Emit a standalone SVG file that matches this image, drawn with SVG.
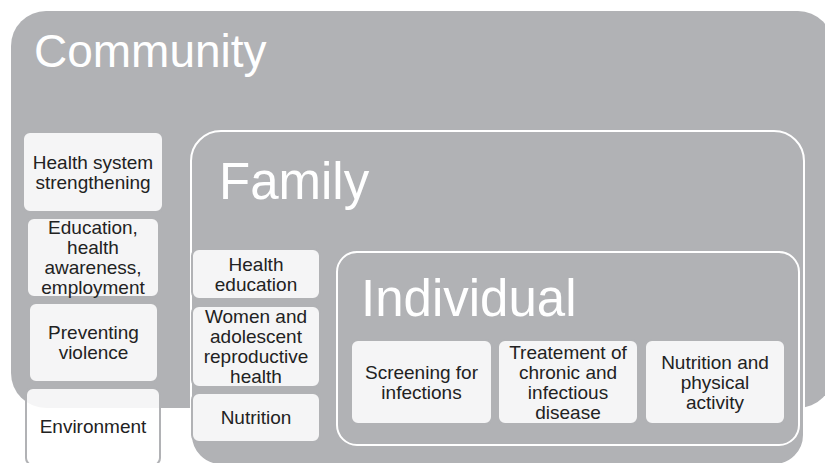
<svg xmlns="http://www.w3.org/2000/svg" width="825" height="463" viewBox="0 0 825 463">
  <style>
    .level { fill: #b1b2b5; }
    .outline { fill: #b1b2b5; stroke: #ffffff; stroke-width: 2; }
    .title { font-family: "Liberation Sans", Arial, sans-serif; fill: #ffffff; }
    .item { fill: #ffffff; fill-opacity: 0.87; stroke: #b1b2b5; stroke-width: 2; }
    .label { font-family: "Liberation Sans", Arial, sans-serif; font-size: 19px; fill: #222222; text-anchor: middle; }
  </style>
  <rect width="825" height="463" fill="#ffffff"/>

  <!-- Outer level -->
  <g id="community">
    <rect class="level" x="11" y="11" width="822" height="397" rx="35"/>
    <text class="title" x="34" y="67" font-size="46">Community</text>
  </g>

  <!-- Community items -->
  <g id="health-system">
    <rect class="item" x="23" y="132" width="140" height="80" rx="7"/>
    <text class="label"><tspan x="93" y="168.7">Health system</tspan><tspan x="93" y="188.7">strengthening</tspan></text>
  </g>
  <g id="education">
    <rect class="item" x="27" y="218" width="132" height="79" rx="7"/>
    <text class="label"><tspan x="93" y="234">Education,</tspan><tspan x="93" y="254">health</tspan><tspan x="93" y="274">awareness,</tspan><tspan x="93" y="294">employment</tspan></text>
  </g>
  <g id="violence">
    <rect class="item" x="29" y="303" width="129" height="79" rx="7"/>
    <text class="label"><tspan x="93.5" y="339">Preventing</tspan><tspan x="93.5" y="359">violence</tspan></text>
  </g>
  <g id="environment">
    <rect class="item" x="26" y="388" width="134" height="77" rx="7"/>
    <text class="label" x="93" y="433">Environment</text>
  </g>

  <!-- Middle level -->
  <g id="family">
    <rect class="outline" x="191" y="131" width="613" height="334" rx="30"/>
    <text class="title" x="219" y="199" font-size="51">Family</text>
  </g>
  <g id="health-education">
    <rect class="item" x="192" y="249" width="128" height="50" rx="7"/>
    <text class="label"><tspan x="256" y="270.7">Health</tspan><tspan x="256" y="290.7">education</tspan></text>
  </g>
  <g id="reproductive-health">
    <rect class="item" x="192" y="306" width="128" height="81" rx="7"/>
    <text class="label"><tspan x="256" y="323">Women and</tspan><tspan x="256" y="343">adolescent</tspan><tspan x="256" y="363">reproductive</tspan><tspan x="256" y="383">health</tspan></text>
  </g>
  <g id="family-nutrition">
    <rect class="item" x="192" y="393" width="128" height="49" rx="7"/>
    <text class="label" x="256" y="424">Nutrition</text>
  </g>

  <!-- Inner level -->
  <g id="individual">
    <rect class="outline" x="337" y="252" width="462" height="193" rx="20" stroke-width="1.7"/>
    <text class="title" x="361" y="316" font-size="51">Individual</text>
  </g>
  <g id="screening">
    <rect class="item" x="351" y="340" width="141" height="84" rx="7"/>
    <text class="label"><tspan x="421.5" y="378.7">Screening for</tspan><tspan x="421.5" y="398.7">infections</tspan></text>
  </g>
  <g id="treatment">
    <rect class="item" x="498" y="340" width="140" height="84" rx="7"/>
    <text class="label"><tspan x="568" y="358.7">Treatement of</tspan><tspan x="568" y="378.7">chronic and</tspan><tspan x="568" y="398.7">infectious</tspan><tspan x="568" y="418.7">disease</tspan></text>
  </g>
  <g id="activity">
    <rect class="item" x="645" y="340" width="140" height="84" rx="7"/>
    <text class="label"><tspan x="715" y="368.7">Nutrition and</tspan><tspan x="715" y="388.7">physical</tspan><tspan x="715" y="408.7">activity</tspan></text>
  </g>
</svg>
